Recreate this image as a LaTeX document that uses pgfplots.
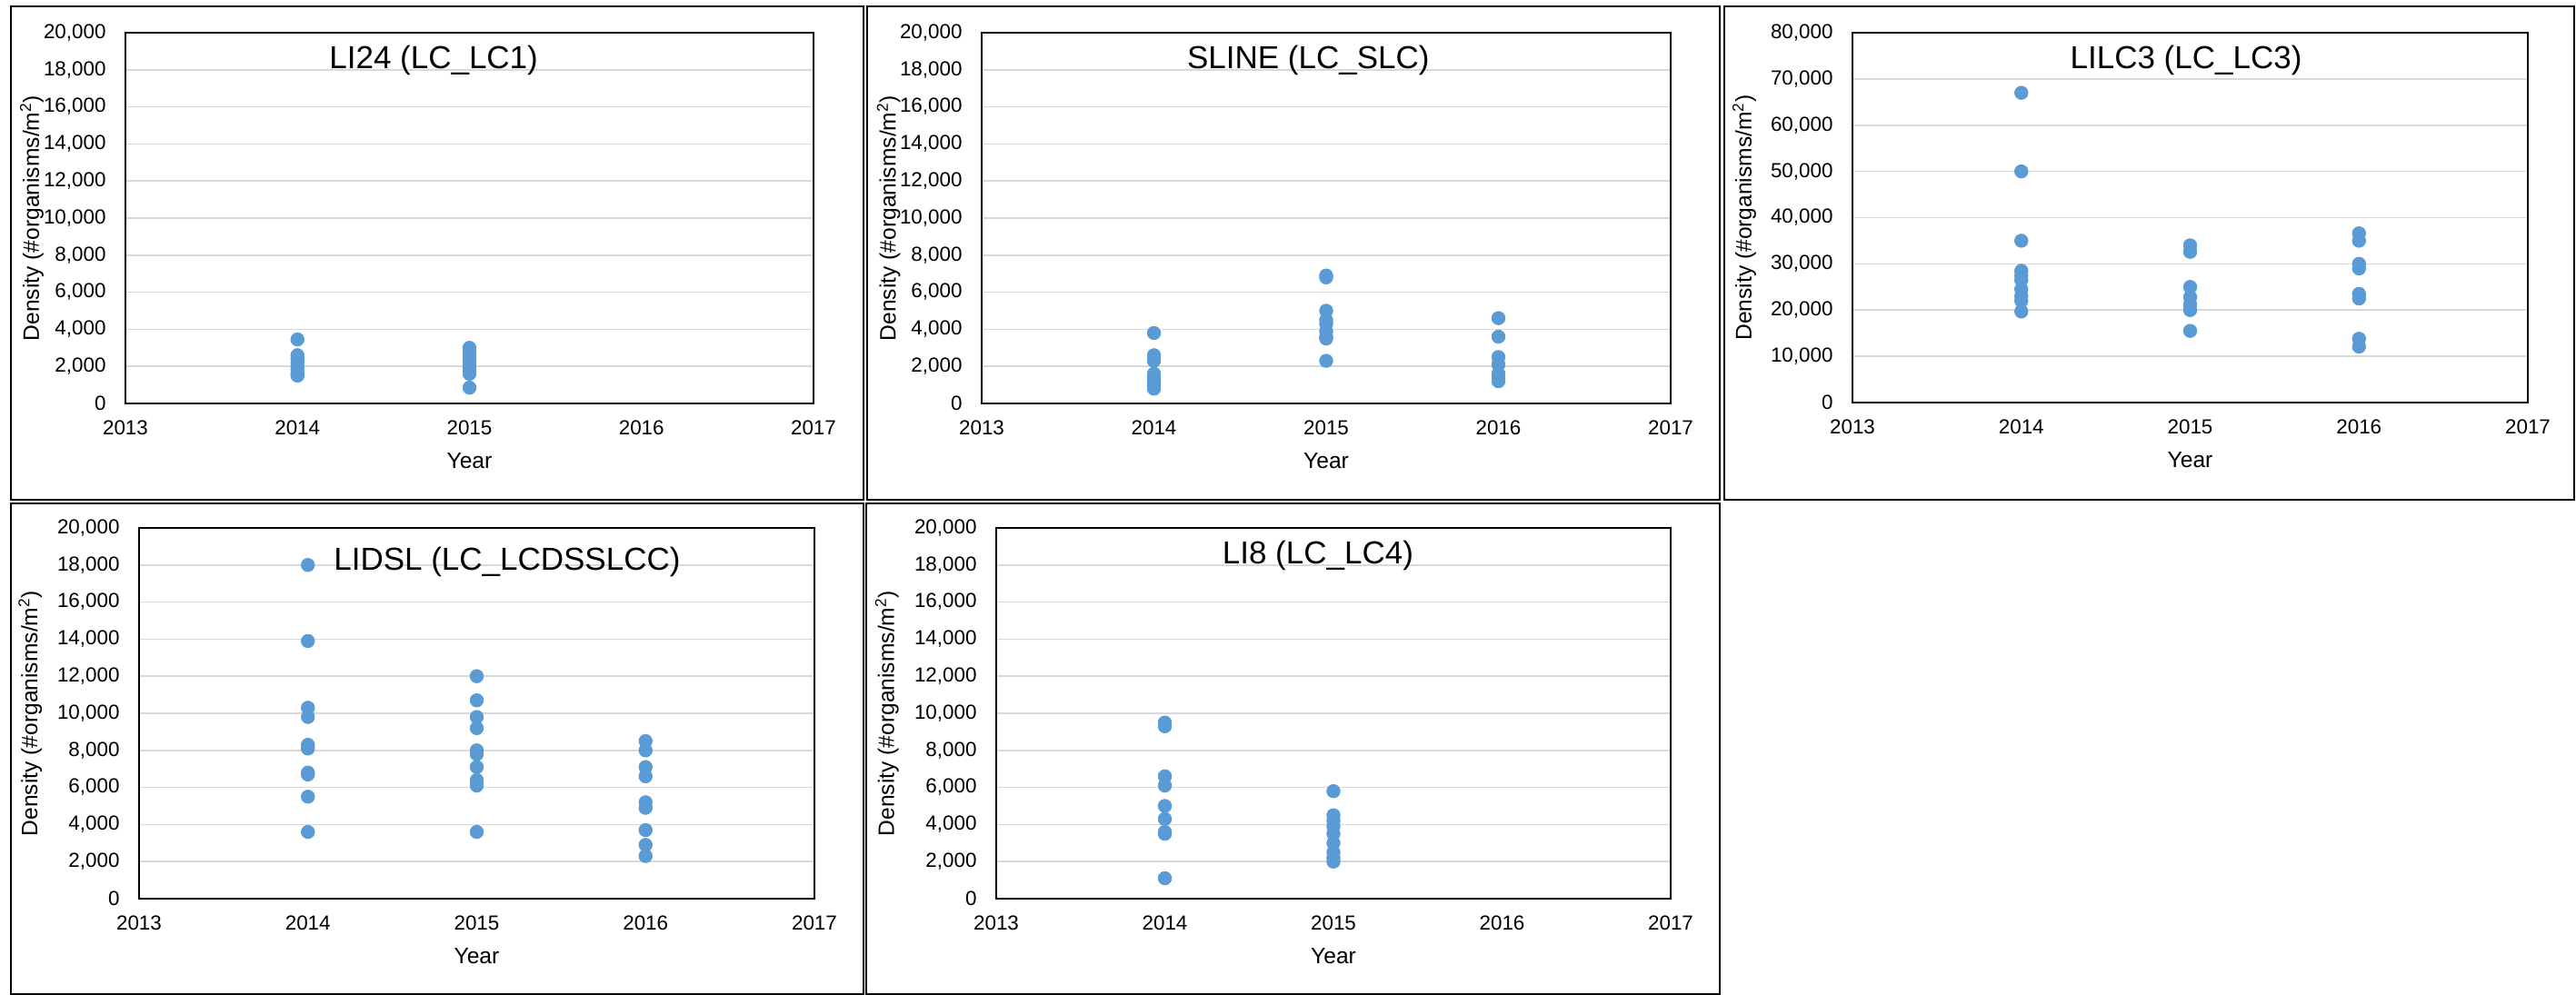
\documentclass[border=0pt]{standalone}
\usepackage{pgfplots}
\pgfplotsset{compat=1.18}
\usepackage{fontspec}
\setmainfont{Liberation Sans}
\definecolor{dotblue}{HTML}{5B9BD5}
\definecolor{gridgray}{HTML}{D9D9D9}
\tikzset{ttl/.style={font=\fontsize{17.5}{20}\selectfont, anchor=base}}
\pgfplotsset{
  dots/.style={only marks, mark=*, mark size=3.65pt, color=dotblue, mark options={fill=dotblue, draw=dotblue}},
  panel/.style={
    scale only axis,
    anchor=south west,
    xmin=2013, xmax=2017,
    xtick={2013,2014,2015,2016,2017},
    ymin=0,
    scaled y ticks=false,
    scaled x ticks=false,
    major tick length=0pt,
    ymajorgrids,
    grid style={gridgray, line width=0.8pt},
    axis line style={black, line width=0.9pt},
    /pgf/number format/assume math mode=true,
    yticklabel style={/pgf/number format/fixed, /pgf/number format/precision=0, /pgf/number format/1000 sep={,}},
    xticklabel style={font=\fontsize{11.2}{13}\selectfont, yshift=-5.8pt, /pgf/number format/1000 sep=},
    yticklabel style={font=\fontsize{11.2}{13}\selectfont, xshift=-7.2pt},
    xlabel={Year},
    ylabel={Density (\#organisms/m\textsuperscript{2})},
    label style={font=\fontsize{12.3}{14}\selectfont},
    xlabel style={at={(axis description cs:0.5,-0.155)}, anchor=center},
  },
}
\begin{document}
\begin{tikzpicture}
\path[use as bounding box] (0pt,0pt) rectangle (1417pt,547.5pt);
% panel frames
\draw[black, line width=1pt] (6pt,544pt) rectangle (475pt,272.5pt);
\draw[black, line width=1pt] (477pt,544pt) rectangle (946pt,272.5pt);
\draw[black, line width=1pt] (948.5pt,544pt) rectangle (1416pt,272.5pt);
\draw[black, line width=1pt] (6pt,270.5pt) rectangle (475pt,0.5pt);
\draw[black, line width=1pt] (476.5pt,270.5pt) rectangle (946pt,0.5pt);

% Panel 1
\begin{axis}[panel, at={(69pt,325.5pt)}, width=378.5pt, height=204pt,
  ymax=20000, ytick={0,2000,...,20000},
  ylabel style={at={(axis description cs:-0.136,0.5)}, anchor=center}]
\addplot[dots] coordinates {(2014,3450) (2014,2600) (2014,2400) (2014,2200) (2014,2000) (2014,1800) (2014,1600) (2014,1500)
 (2015,3000) (2015,2800) (2015,2500) (2015,2300) (2015,2000) (2015,1800) (2015,1600) (2015,850)};
\node[ttl] at (axis description cs:0.448,0.902) {LI24 (LC\_LC1)};
\end{axis}

% Panel 2
\begin{axis}[panel, at={(540pt,325.5pt)}, width=379pt, height=204pt,
  ymax=20000, ytick={0,2000,...,20000},
  ylabel style={at={(axis description cs:-0.135,0.5)}, anchor=center}]
\addplot[dots] coordinates {(2014,3800) (2014,2600) (2014,2300) (2014,1600) (2014,1400) (2014,1200) (2014,1000) (2014,800)
 (2015,6900) (2015,6800) (2015,5000) (2015,4500) (2015,4300) (2015,3900) (2015,3600) (2015,3500) (2015,2300)
 (2016,4600) (2016,3600) (2016,2500) (2016,2100) (2016,1600) (2016,1400) (2016,1200)};
\node[ttl] at (axis description cs:0.474,0.904) {SLINE (LC\_SLC)};
\end{axis}

% Panel 3
\begin{axis}[panel, at={(1019pt,326pt)}, width=371.5pt, height=203.5pt,
  ymax=80000, ytick={0,10000,...,80000},
  ylabel style={at={(axis description cs:-0.160,0.5)}, anchor=center}]
\addplot[dots] coordinates {(2014,67000) (2014,50000) (2014,35000) (2014,28500) (2014,27500) (2014,26500) (2014,24500) (2014,23000) (2014,22000) (2014,19700)
 (2015,34000) (2015,32600) (2015,25000) (2015,22800) (2015,21200) (2015,20000) (2015,15500)
 (2016,36600) (2016,35000) (2016,30000) (2016,29000) (2016,23500) (2016,22500) (2016,13800) (2016,12100)};
\node[ttl] at (axis description cs:0.494,0.904) {LILC3 (LC\_LC3)};
\end{axis}

% Panel 4
\begin{axis}[panel, at={(76.5pt,53pt)}, width=371.5pt, height=204pt,
  ymax=20000, ytick={0,2000,...,20000},
  ylabel style={at={(axis description cs:-0.161,0.5)}, anchor=center}]
\addplot[dots] coordinates {(2014,18000) (2014,13900) (2014,10300) (2014,9800) (2014,8300) (2014,8100) (2014,6800) (2014,6700) (2014,5500) (2014,3600)
 (2015,12000) (2015,10700) (2015,9800) (2015,9200) (2015,8000) (2015,7800) (2015,7100) (2015,6400) (2015,6100) (2015,3600)
 (2016,8500) (2016,8000) (2016,7100) (2016,6600) (2016,5200) (2016,4900) (2016,3700) (2016,2900) (2016,2300)};
\node[ttl] at (axis description cs:0.545,0.887) {LIDSL (LC\_LCDSSLCC)};
\end{axis}

% Panel 5
\begin{axis}[panel, at={(548pt,53pt)}, width=371pt, height=204pt,
  ymax=20000, ytick={0,2000,...,20000},
  ylabel style={at={(axis description cs:-0.162,0.5)}, anchor=center}]
\addplot[dots] coordinates {(2014,9500) (2014,9300) (2014,6600) (2014,6100) (2014,5000) (2014,4300) (2014,3600) (2014,3500) (2014,1100)
 (2015,5800) (2015,4500) (2015,4200) (2015,3900) (2015,3500) (2015,3000) (2015,2500) (2015,2200) (2015,2000)};
\node[ttl] at (axis description cs:0.477,0.902) {LI8 (LC\_LC4)};
\end{axis}
\end{tikzpicture}
\end{document}
